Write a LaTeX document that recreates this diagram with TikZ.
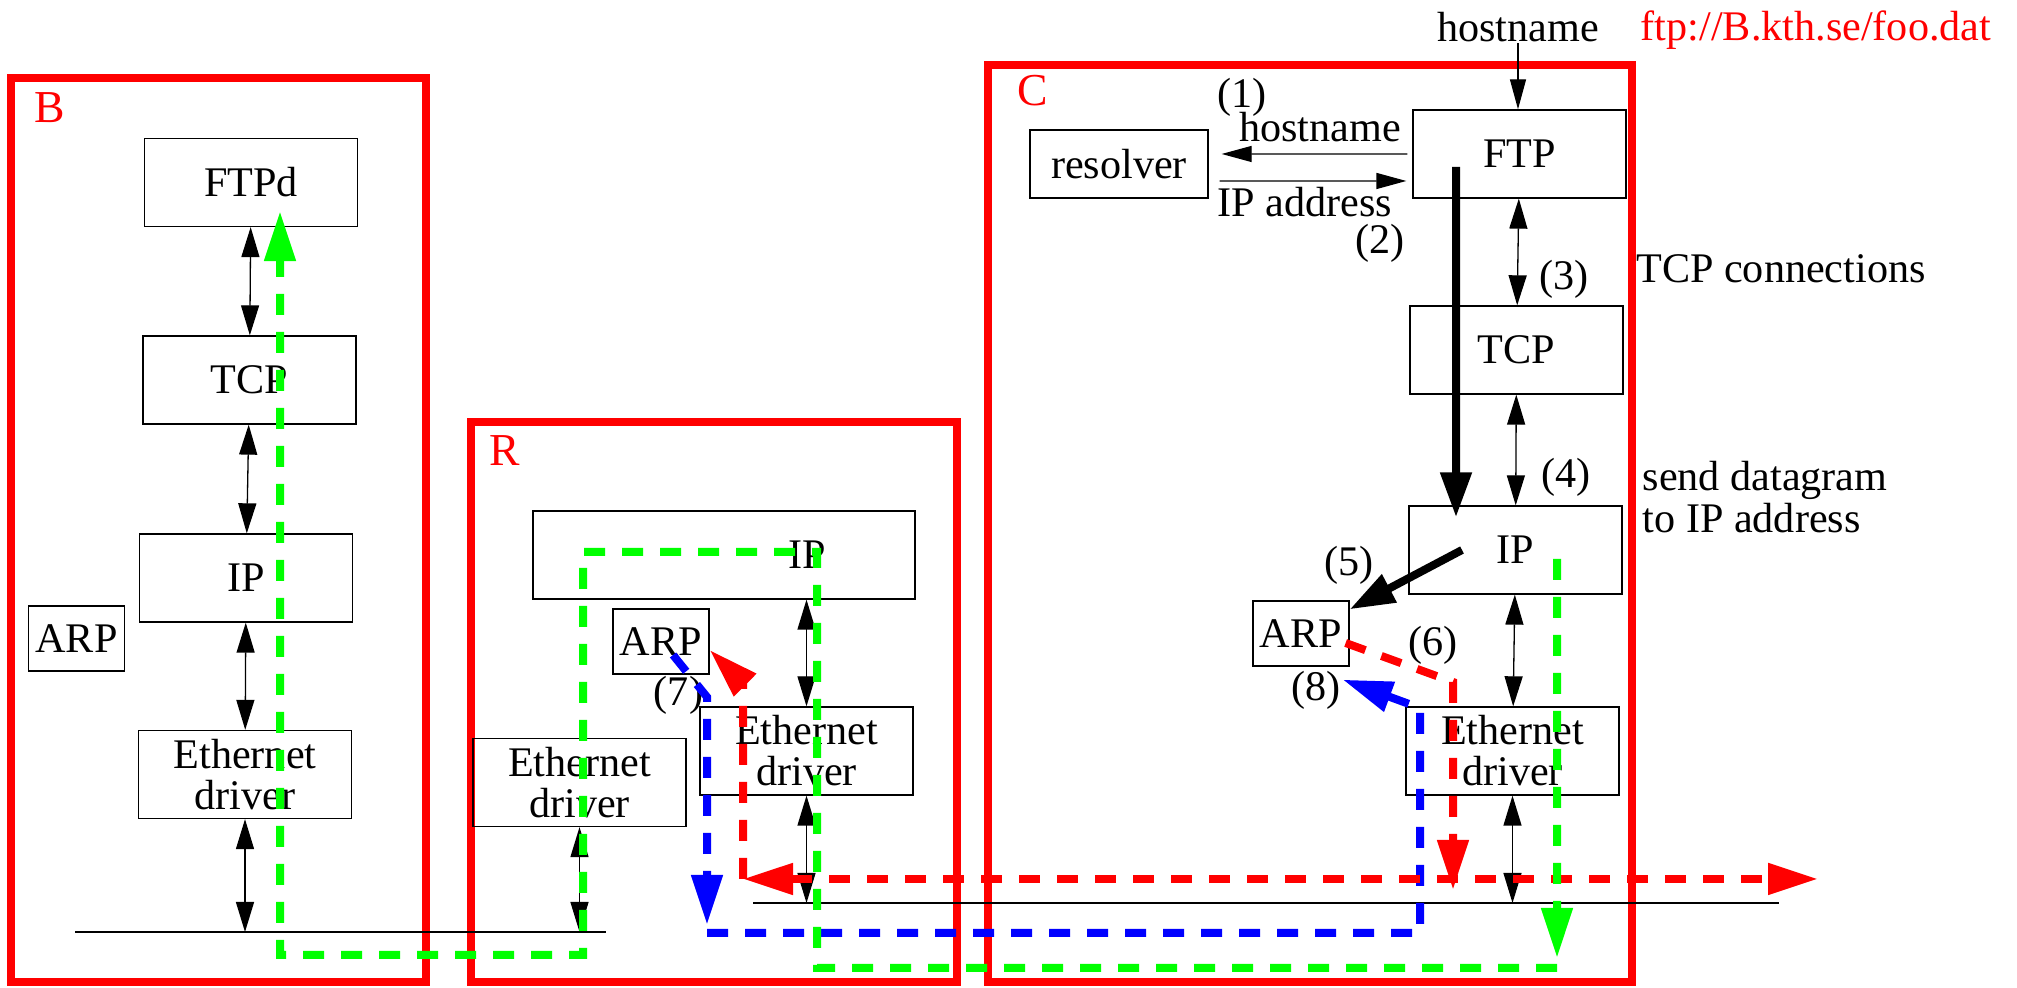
\documentclass[tikz,border=0pt]{standalone}
\usepackage{fontspec}
\setmainfont{Liberation Serif}
\usepackage{tikz}
\usetikzlibrary{arrows.meta}
\definecolor{hostred}{HTML}{FF0000}
\definecolor{flowgreen}{HTML}{00FF00}
\definecolor{flowblue}{HTML}{0000FF}

\begin{document}
\begin{tikzpicture}[
  font=\fontsize{12}{11.7}\selectfont,
  layerbox/.style={draw, line width=0.13mm, minimum width=2.13cm, minimum height=0.88cm, inner sep=0pt, align=center},
  arpbox/.style={draw, line width=0.13mm, minimum width=0.96cm, minimum height=0.65cm, inner sep=0pt},
  hostframe/.style={draw=hostred, line width=0.8mm},
  hostlabel/.style={inner sep=0pt, text=hostred, font=\fontsize{13}{13}\selectfont},
  note/.style={inner sep=0pt, anchor=base},
  lanline/.style={line width=0.13mm},
  callarrow/.style={line width=0.13mm, -{Triangle[length=3mm,width=1.6mm]}},
  duplex/.style={line width=0.13mm, {Triangle[length=3mm,width=1.8mm]}-{Triangle[length=3mm,width=1.8mm]}},
  boldarrow/.style={line width=0.8mm, -{Triangle[length=4.5mm,width=3mm]}},
  flow/.style={line width=0.8mm, dash pattern=on 2.1mm off 1.7mm, -{Triangle[length=5mm,width=3mm]}},
  redflow/.style={flow, hostred},
  greenflow/.style={flow, flowgreen},
  blueflow/.style={flow, flowblue},
]
  \useasboundingbox (0,0) rectangle (20.17,9.88);

  \draw[hostframe] (0.11,9.10) rectangle (4.26,0.06);
  \draw[hostframe] (4.71,5.66) rectangle (9.57,0.06);
  \draw[hostframe] (9.88,9.23) rectangle (16.32,0.06);
  \node[hostlabel] at (0.50,8.80) {B};
  \node[hostlabel] at (5.05,5.37) {R};
  \node[hostlabel] at (10.33,8.97) {C};

  \node[layerbox] (ftpd) at (2.51,8.055) {FTPd};
  \node[layerbox] (tcpb) at (2.495,6.08) {TCP};
  \node[layerbox] (ipb)  at (2.46,4.10) {IP};
  \node[layerbox] (ethb) at (2.45,2.135) {Ethernet\\driver};
  \node[arpbox]   (arpb) at (0.765,3.495) {ARP};

  \node[layerbox, minimum width=3.82cm] (ipr) at (7.24,4.33) {\hspace*{1.66cm}IP};
  \node[arpbox]   (arpr) at (6.61,3.465) {ARP};
  \node[layerbox] (ethr) at (8.065,2.37) {Ethernet\\driver};
  \node[layerbox] (ethl) at (5.795,2.055) {Ethernet\\driver};

  \node[layerbox, minimum width=1.78cm, minimum height=0.68cm] (resolver) at (11.19,8.24) {resolver};
  \node[layerbox] (ftp)  at (15.195,8.34) {FTP};
  \node[layerbox] (tcpc) at (15.165,6.38) {TCP};
  \node[layerbox] (ipc)  at (15.155,4.38) {IP};
  \node[arpbox]   (arpc) at (13.01,3.545) {ARP};
  \node[layerbox] (ethc) at (15.125,2.37) {Ethernet\\driver};

  \node[note] (hosttop) at (15.18,9.46) {hostname};
  \node[note, text=hostred] (url) at (18.16,9.47) {ftp://B.kth.se/foo.dat};
  \node[note] (n1) at (12.42,8.805) {(1)};
  \node[note] (hostin) at (13.20,8.46) {hostname};
  \node[note] (ipaddr) at (13.05,7.71) {IP address};
  \node[note] (n2) at (13.80,7.34) {(2)};
  \node[note] (n3) at (15.64,6.985) {(3)};
  \node[note] (tcpconn) at (17.81,7.05) {TCP connections};
  \node[note] (n4) at (15.66,5.00) {(4)};
  \node[inner sep=0pt, anchor=north west, align=left] (senddg) at (16.42,5.27) {send datagram\\to IP address};
  \node[note] (n5) at (13.49,4.125) {(5)};
  \node[note] (n6) at (14.33,3.325) {(6)};
  \node[note] (n7) at (6.785,2.825) {(7)};
  \node[note] (n8) at (13.16,2.875) {(8)};

  \coordinate (lanbl) at (0.75,0.56);
  \coordinate (lanbr) at (6.06,0.56);
  \coordinate (lanrl) at (7.53,0.85);
  \coordinate (lanrr) at (17.79,0.85);
  \draw[lanline] (lanbl) -- (lanbr);
  \draw[lanline] (lanrl) -- (lanrr);

  \draw[duplex] (ftpd) -- (tcpb);
  \draw[duplex] (tcpb) -- (ipb);
  \draw[duplex] (ipb) -- (ethb);
  \draw[duplex] (ethb) -- (ethb |- lanbl);
  \draw[duplex] (ethr.north |- ipr.south) -- (ethr);
  \draw[duplex] (ethr) -- (ethr |- lanrl);
  \draw[duplex] (ethl) -- (ethl |- lanbl);
  \draw[duplex] (ftp) -- (tcpc);
  \draw[duplex] (tcpc) -- (ipc);
  \draw[duplex] (ipc) -- (ethc);
  \draw[duplex] (ethc) -- (ethc |- lanrl);

  \draw[callarrow] (hosttop) -- (hosttop |- ftp.north);
  \draw[callarrow] ([xshift=-0.5mm]ftp.west) -- ([xshift=1.3mm,yshift=1mm]resolver.east);
  \draw[callarrow] ([xshift=1.1mm,yshift=-1.7mm]resolver.east) -- ([xshift=-0.6mm,yshift=-2.7mm]ftp.west);

  \draw[boldarrow] ([xshift=-6.35mm,yshift=-1.3mm]ftp.center) -- ([xshift=-5.95mm,yshift=-1.2mm]ipc.north);
  \draw[boldarrow] ([xshift=-5.35mm]ipc.center) -- ([yshift=-0.9mm]arpc.north east);

  \coordinate (b7) at (7.07,2.91);
  \coordinate (b7tip) at (7.07,0.63);
  \coordinate (bl) at (7.07,0.55);
  \coordinate (br) at (14.20,0.55);
  \coordinate (b8) at (14.20,2.80);
  \draw[blueflow] ([xshift=1.2mm,yshift=-1.35mm]arpr.center) -- (b7) -- (b7tip);
  \draw[blueflow] (bl) -- (br) -- (b8) -- ([xshift=-0.7mm,yshift=-1.3mm]arpc.south east);

  \coordinate (r6) at (14.53,3.06);
  \coordinate (r6tip) at (14.53,0.98);
  \coordinate (redl) at (7.43,1.09);
  \coordinate (redr) at (18.18,1.09);
  \coordinate (r7) at (7.43,3.05);
  \draw[redflow] ([xshift=-0.4mm,yshift=-0.95mm]arpc.east) -- (r6) -- (r6tip);
  \draw[redflow, {Triangle[length=5mm,width=3mm]}-{Triangle[length=5mm,width=3mm]}] (redl) -- (redr);
  \draw[redflow] (redl) -- (r7) -- ([yshift=-0.85mm]arpr.east);

  \coordinate (gtip) at (15.57,0.30);
  \coordinate (g1) at (15.57,0.20);
  \coordinate (g2) at (8.17,0.20);
  \coordinate (g3) at (8.17,4.36);
  \coordinate (g4) at (5.83,4.36);
  \coordinate (g5) at (5.83,0.33);
  \coordinate (g6) at (2.80,0.33);
  \draw[greenflow] ([xshift=4.15mm,yshift=-0.9mm]ipc.center) -- (gtip);
  \draw[greenflow] (g1) -- (g2) -- (g3) -- (g4) -- (g5) -- (g6) -- ([xshift=2.9mm,yshift=1.6mm]ftpd.south);
\end{tikzpicture}
\end{document}
